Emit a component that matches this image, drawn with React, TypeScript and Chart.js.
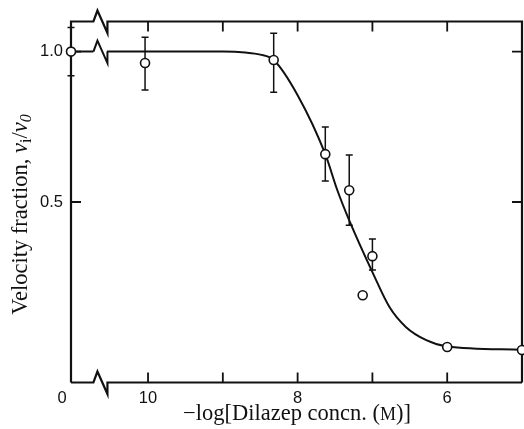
import React, { useEffect, useRef } from "react";
import { Chart, registerables } from "chart.js";

Chart.register(...registerables);

// Measured data (x is -log[Dilazep], the "0" point is placed at the broken left edge)
const pointX = [11.03, 10.04, 8.32, 7.63, 7.31, 7.0, 7.13, 6.0, 5.0];
const pointY = [1.0, 0.962, 0.972, 0.659, 0.539, 0.32, 0.19, 0.018, 0.008];
const errLow = [0.92, 0.872, 0.865, 0.57, 0.423, 0.274, null, null, null];
const errHigh = [1.08, 1.048, 1.061, 0.749, 0.656, 0.377, null, null, null];

// Fitted curve (null = axis-break gap)
const curveX = [11.03, 10.73, 10.64, 10.55, 10, 9, 8.7, 8.5, 8.32, 8.0, 7.63, 7.47, 7.3, 7.0, 6.77, 6.55, 6.28, 6.0, 5.0];
const curveY = [1, 1, null, 1, 1, 1, 0.997, 0.99, 0.972, 0.855, 0.659, 0.54, 0.433, 0.267, 0.15, 0.084, 0.041, 0.02, 0.009];

const xTickValues = [11.15, 10, 8, 6];
const xTickLabels = ["0", "10", "8", "6"];
const yTickValues = [1.0, 0.5];
const yTickLabels = ["1.0", "0.5"];
const xTickMarks = [10, 9, 8, 7, 6];
const yTickMarks = [1.0, 0.5];
const breakStart = 10.73;

const INK = "#111";

const decorPlugin = {
  id: "decor",
  beforeDatasetsDraw(chart: any) {
    const ctx = chart.ctx;
    const xs = chart.scales.x;
    const ys = chart.scales.y;
    const a = chart.chartArea;
    const bx = xs.getPixelForValue(breakStart);
    ctx.save();
    ctx.strokeStyle = INK;
    ctx.lineCap = "butt";
    ctx.lineJoin = "miter";
    ctx.lineWidth = 2.2;
    const zig = (y: number) => {
      ctx.lineTo(bx, y);
      ctx.lineTo(bx + 4, y - 11);
      ctx.lineTo(bx + 14, y + 11.5);
      ctx.lineTo(bx + 14, y);
    };
    // frame
    ctx.beginPath();
    ctx.moveTo(a.left, a.bottom);
    ctx.lineTo(a.left, a.top);
    zig(a.top);
    ctx.lineTo(a.right, a.top);
    ctx.lineTo(a.right, a.bottom);
    ctx.moveTo(a.left, a.bottom);
    zig(a.bottom);
    ctx.lineTo(a.right, a.bottom);
    ctx.stroke();
    // curve break zigzag
    ctx.lineWidth = 2;
    const cy = ys.getPixelForValue(1.0);
    ctx.beginPath();
    ctx.moveTo(bx, cy);
    ctx.lineTo(bx + 4, cy - 11);
    ctx.lineTo(bx + 14, cy + 11.5);
    ctx.lineTo(bx + 14, cy);
    ctx.stroke();
    // inward ticks
    ctx.lineWidth = 1.8;
    ctx.beginPath();
    xTickMarks.forEach((v) => {
      const px = xs.getPixelForValue(v);
      ctx.moveTo(px, a.bottom);
      ctx.lineTo(px, a.bottom - 10);
      ctx.moveTo(px, a.top);
      ctx.lineTo(px, a.top + 10);
    });
    yTickMarks.forEach((v) => {
      const py = ys.getPixelForValue(v);
      ctx.moveTo(a.left, py);
      ctx.lineTo(a.left + 10, py);
      ctx.moveTo(a.right, py);
      ctx.lineTo(a.right - 10, py);
    });
    ctx.stroke();
    // error bars
    ctx.lineWidth = 1.5;
    ctx.beginPath();
    pointX.forEach((xv, i) => {
      const lo = errLow[i];
      const hi = errHigh[i];
      if (lo == null || hi == null) return;
      const px = xs.getPixelForValue(xv);
      const pl = ys.getPixelForValue(lo);
      const ph = ys.getPixelForValue(hi);
      ctx.moveTo(px, pl);
      ctx.lineTo(px, ph);
      ctx.moveTo(px - 3.5, pl);
      ctx.lineTo(px + 3.5, pl);
      ctx.moveTo(px - 3.5, ph);
      ctx.lineTo(px + 3.5, ph);
    });
    ctx.stroke();
    ctx.restore();
  },
  afterDraw(chart: any) {
    const ctx = chart.ctx;
    ctx.save();
    ctx.fillStyle = INK;
    ctx.textBaseline = "alphabetic";
    // x title: −log[Dilazep concn. (M)] with small-caps M
    const fs = 22.5;
    const serif = "'Liberation Serif', 'Times New Roman', serif";
    const parts: [string, string][] = [
      ["\u2212log[Dilazep concn. (", `${fs}px ${serif}`],
      ["M", `${Math.round(fs * 0.78)}px ${serif}`],
      [")]", `${fs}px ${serif}`],
    ];
    let total = 0;
    parts.forEach(([t, f]) => {
      ctx.font = f;
      total += ctx.measureText(t).width;
    });
    let x = 297 - total / 2;
    parts.forEach(([t, f]) => {
      ctx.font = f;
      ctx.fillText(t, x, 420);
      x += ctx.measureText(t).width;
    });
    // y title: Velocity fraction, v_i/v_0
    const yparts: [string, string, number][] = [
      ["Velocity fraction, ", `${fs}px ${serif}`, 0],
      ["v", `italic ${fs}px ${serif}`, 0],
      ["i", `${Math.round(fs * 0.7)}px ${serif}`, 4],
      ["/", `${fs}px ${serif}`, 0],
      ["v", `italic ${fs}px ${serif}`, 0],
      ["0", `italic ${Math.round(fs * 0.7)}px ${serif}`, 4],
    ];
    let ytotal = 0;
    yparts.forEach(([t, f]) => {
      ctx.font = f;
      ytotal += ctx.measureText(t).width;
    });
    ctx.translate(27, 214.5);
    ctx.rotate(-Math.PI / 2);
    let yx = -ytotal / 2;
    yparts.forEach(([t, f, dy]) => {
      ctx.font = f;
      ctx.fillText(t, yx, dy);
      yx += ctx.measureText(t).width;
    });
    ctx.restore();
  },
};

export default function App() {
  const ref = useRef<HTMLCanvasElement | null>(null);
  useEffect(() => {
    if (!ref.current) return;
    const chart = new Chart(ref.current, {
      type: "scatter",
      data: {
        datasets: [
          {
            label: "Observed",
            data: pointX.map((x, i) => ({ x, y: pointY[i] })),
            showLine: false,
            pointStyle: "circle",
            pointRadius: 4.5,
            pointBorderWidth: 1.6,
            pointBackgroundColor: "#fff",
            pointBorderColor: INK,
            clip: false as any,
          },
          {
            label: "Fit",
            data: curveX.map((x, i) => ({ x, y: curveY[i] as any })),
            showLine: true,
            spanGaps: false,
            pointRadius: 0,
            borderColor: INK,
            borderWidth: 2,
            cubicInterpolationMode: "monotone",
          },
        ],
      },
      plugins: [decorPlugin],
      options: {
        animation: false,
        responsive: false,
        devicePixelRatio: 1,
        layout: { autoPadding: false, padding: { top: 21.5, right: 2, left: 0, bottom: 0 } },
        plugins: { legend: { display: false }, tooltip: { enabled: false } },
        scales: {
          x: {
            type: "linear",
            reverse: true,
            min: 5,
            max: 11.03,
            grid: { display: false, drawTicks: false },
            border: { display: false },
            afterBuildTicks: (s: any) => {
              s.ticks = xTickValues.map((v) => ({ value: v }));
            },
            afterFit: (s: any) => {
              s.height = 46.5;
              s.paddingLeft = 0;
              s.paddingRight = 0;
            },
            ticks: {
              autoSkip: false,
              maxRotation: 0,
              padding: 6,
              color: INK,
              font: { family: "'Liberation Sans', Arial, sans-serif", size: 16.5 },
              callback: (v: any) => {
                const i = xTickValues.indexOf(Number(v));
                return i >= 0 ? xTickLabels[i] : "";
              },
            },
          },
          y: {
            type: "linear",
            min: -0.1,
            max: 1.1,
            grid: { display: false, drawTicks: false },
            border: { display: false },
            afterBuildTicks: (s: any) => {
              s.ticks = yTickValues.map((v) => ({ value: v }));
            },
            afterFit: (s: any) => {
              s.width = 71;
              s.paddingTop = 0;
              s.paddingBottom = 0;
            },
            ticks: {
              autoSkip: false,
              padding: 8,
              color: INK,
              font: { family: "'Liberation Sans', Arial, sans-serif", size: 16.5 },
              callback: (v: any) => {
                const i = yTickValues.indexOf(Number(v));
                return i >= 0 ? yTickLabels[i] : "";
              },
            },
          },
        },
      },
    } as any);
    return () => chart.destroy();
  }, []);
  return (
    <div style={{ position: "fixed", left: 0, top: 0, width: 524, height: 429, background: "#fff" }}>
      <canvas ref={ref} width={524} height={429} style={{ display: "block" }} />
    </div>
  );
}
